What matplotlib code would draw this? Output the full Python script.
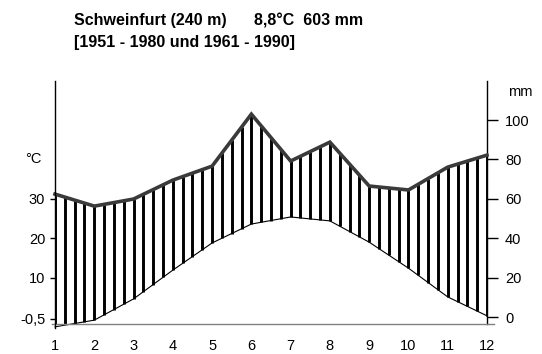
import numpy as np
import matplotlib.pyplot as plt

plt.rcParams['font.family'] = ['Liberation Sans', 'DejaVu Sans']

# monthly means, Schweinfurt
months = np.arange(1, 13)
month_labels = [str(m) for m in months]
temp_c = [-2.5, -0.8, 4.6, 11.9, 18.8, 23.6, 25.4, 24.4, 19.0, 12.4, 5.1, 0.3]
precip_mm = [62.4, 56.3, 59.9, 69.5, 76.6, 103.0, 79.2, 88.8, 66.5, 64.5, 76.1, 82.2]

temp_ticks = [-0.5, 10, 20, 30]
temp_ticklabels = ["-0,5", "10", "20", "30"]
precip_ticks = [0, 20, 40, 60, 80, 100]

fig = plt.figure(figsize=(5.42, 3.54), dpi=100)
ax = fig.add_axes([0.1015, 0.0847, 0.797, 0.6863])
axr = ax.twinx()

# walter-lieth scaling: 10 degC = 20 mm
ax.set_ylim(-1.78, 59.9)
axr.set_ylim(-3.56, 119.8)
ax.set_xlim(1, 12)

ax.set_zorder(2)
ax.patch.set_visible(False)

# humid period hatching between temperature and precipitation curves
xs = np.arange(1, 12.01, 0.25)
lo = np.interp(xs, months, temp_c) * 2
hi = np.interp(xs, months, precip_mm)
axr.vlines(xs, lo, hi, color='black', linewidth=2.1, zorder=1)

axr.plot(months, precip_mm, color='#3a3a3a', linewidth=2.6, zorder=3,
         solid_joinstyle='miter', clip_on=False)
ax.plot(months, temp_c, color='black', linewidth=0.8, clip_on=False)

for s in ['top', 'bottom', 'right']:
    ax.spines[s].set_visible(False)
for s in ['top', 'bottom', 'left']:
    axr.spines[s].set_visible(False)
ax.spines['left'].set_bounds(-2.8, 59.9)
ax.spines['left'].set_linewidth(1.0)
axr.spines['right'].set_linewidth(1.0)

ax.plot([-0.007, 1.017], [0, 0], transform=ax.transAxes, color='#808080',
        linewidth=1.0, clip_on=False)

ax.set_xticks(months)
ax.set_xticklabels(month_labels)
ax.tick_params(axis='x', length=0, pad=11, labelsize=10.5)

ax.set_yticks(temp_ticks)
ax.set_yticklabels(temp_ticklabels)
ax.tick_params(axis='y', direction='out', length=3.6, width=1.0, pad=3.5,
               labelsize=10.5)

axr.set_yticks(precip_ticks)
axr.tick_params(axis='y', direction='out', length=8, width=1.0, pad=5,
                labelsize=10.5)

fig.text(33 / 542, 1 - 159 / 354, "°C", fontsize=10.5, ha='center', va='center')
fig.text(520 / 542, 1 - 92 / 354, "mm", fontsize=10.5, ha='center', va='center')

fig.text(74 / 542, 1 - 21 / 354, "Schweinfurt (240 m)", fontsize=11.5,
         fontweight='bold', va='center')
fig.text(254 / 542, 1 - 21 / 354, "8,8°C  603 mm", fontsize=11.5,
         fontweight='bold', va='center')
fig.text(74 / 542, 1 - 43 / 354, "[1951 - 1980 und 1961 - 1990]", fontsize=11.5,
         fontweight='bold', va='center')

fig.savefig("out.png", dpi=100)
